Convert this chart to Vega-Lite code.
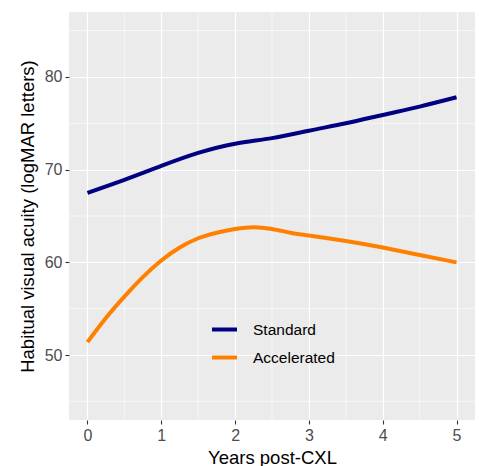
{
  "$schema": "https://vega.github.io/schema/vega-lite/v6.json",
  "width": 406,
  "height": 408,
  "autosize": {"type": "none"},
  "padding": {"left": 69, "top": 12, "right": 4, "bottom": 46},
  "background": "white",
  "config": {
    "font": "Liberation Sans",
    "view": {"fill": "#EBEBEB", "stroke": null},
    "axis": {
      "domain": false,
      "grid": true,
      "gridColor": "white",
      "gridWidth": 1.2,
      "tickColor": "#333333",
      "tickSize": 4,
      "tickWidth": 1.1,
      "labelFont": "Liberation Sans",
      "labelFontSize": 16,
      "labelColor": "#4D4D4D",
      "labelPadding": 3,
      "titleFont": "Liberation Sans",
      "titleFontSize": 18.5,
      "titleFontWeight": "normal",
      "titleColor": "black"
    }
  },
  "datasets": {
    "curves": [
      {"year": 0, "acuity": 67.5, "group": "Standard"},
      {"year": 0.5, "acuity": 68.9, "group": "Standard"},
      {"year": 1, "acuity": 70.4, "group": "Standard"},
      {"year": 1.5, "acuity": 71.8, "group": "Standard"},
      {"year": 2, "acuity": 72.8, "group": "Standard"},
      {"year": 2.5, "acuity": 73.4, "group": "Standard"},
      {"year": 3, "acuity": 74.2, "group": "Standard"},
      {"year": 3.5, "acuity": 75.0, "group": "Standard"},
      {"year": 4, "acuity": 75.9, "group": "Standard"},
      {"year": 4.5, "acuity": 76.8, "group": "Standard"},
      {"year": 5, "acuity": 77.8, "group": "Standard"},
      {"year": 0, "acuity": 51.4, "group": "Accelerated"},
      {"year": 0.25, "acuity": 54.0, "group": "Accelerated"},
      {"year": 0.5, "acuity": 56.3, "group": "Accelerated"},
      {"year": 0.75, "acuity": 58.4, "group": "Accelerated"},
      {"year": 1, "acuity": 60.2, "group": "Accelerated"},
      {"year": 1.25, "acuity": 61.6, "group": "Accelerated"},
      {"year": 1.5, "acuity": 62.6, "group": "Accelerated"},
      {"year": 1.75, "acuity": 63.2, "group": "Accelerated"},
      {"year": 2, "acuity": 63.6, "group": "Accelerated"},
      {"year": 2.25, "acuity": 63.8, "group": "Accelerated"},
      {"year": 2.5, "acuity": 63.6, "group": "Accelerated"},
      {"year": 2.75, "acuity": 63.2, "group": "Accelerated"},
      {"year": 3, "acuity": 62.9, "group": "Accelerated"},
      {"year": 3.5, "acuity": 62.3, "group": "Accelerated"},
      {"year": 4, "acuity": 61.6, "group": "Accelerated"},
      {"year": 4.5, "acuity": 60.8, "group": "Accelerated"},
      {"year": 5, "acuity": 60.0, "group": "Accelerated"}
    ],
    "minorX": [{"v": 0.5}, {"v": 1.5}, {"v": 2.5}, {"v": 3.5}, {"v": 4.5}],
    "minorY": [{"v": 45}, {"v": 55}, {"v": 65}, {"v": 75}, {"v": 85}]
  },
  "layer": [
    {
      "data": {"name": "minorX"},
      "mark": {"type": "rule", "color": "white", "strokeWidth": 0.6},
      "encoding": {
        "x": {"field": "v", "type": "quantitative", "scale": {"domain": [-0.25, 5.25], "nice": false, "zero": false}}
      }
    },
    {
      "data": {"name": "minorY"},
      "mark": {"type": "rule", "color": "white", "strokeWidth": 0.6},
      "encoding": {
        "y": {"field": "v", "type": "quantitative", "scale": {"domain": [43, 87], "nice": false, "zero": false}}
      }
    },
    {
      "data": {"name": "curves"},
      "mark": {"type": "line", "strokeWidth": 4, "interpolate": "natural", "strokeCap": "butt"},
      "encoding": {
        "x": {
          "field": "year", "type": "quantitative",
          "scale": {"domain": [-0.25, 5.25], "nice": false, "zero": false},
          "axis": {"values": [0, 1, 2, 3, 4, 5], "format": "d", "title": "Years post-CXL", "titlePadding": 5}
        },
        "y": {
          "field": "acuity", "type": "quantitative",
          "scale": {"domain": [43, 87], "nice": false, "zero": false},
          "axis": {"values": [50, 60, 70, 80], "title": "Habitual visual acuity (logMAR letters)", "titlePadding": 7}
        },
        "color": {
          "field": "group", "type": "nominal",
          "scale": {"domain": ["Standard", "Accelerated"], "range": ["#000080", "#FF8000"]},
          "legend": {
            "title": null,
            "orient": "none",
            "legendX": 141,
            "legendY": 303,
            "symbolType": "stroke",
            "symbolSize": 625,
            "symbolStrokeWidth": 4,
            "labelFontSize": 15.5,
            "labelColor": "black",
            "labelOffset": 14,
            "rowPadding": 5,
            "padding": 0
          }
        }
      }
    }
  ]
}
